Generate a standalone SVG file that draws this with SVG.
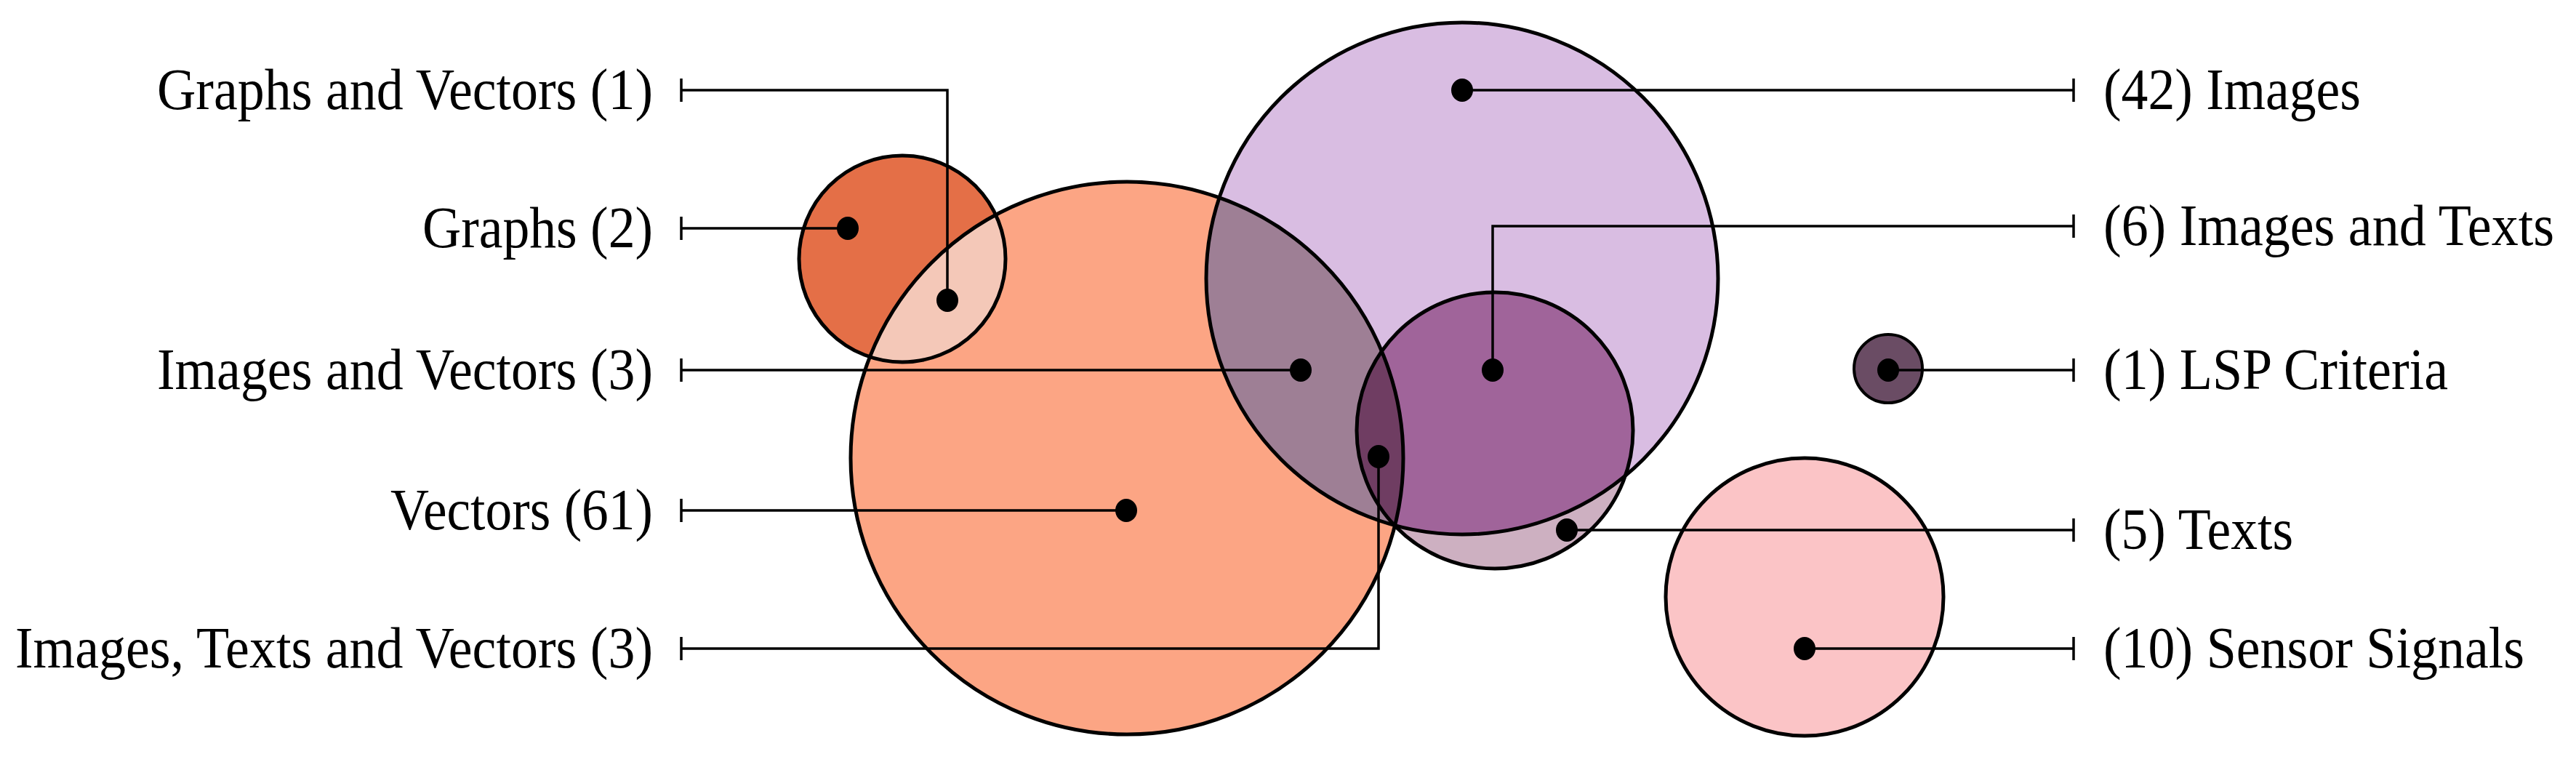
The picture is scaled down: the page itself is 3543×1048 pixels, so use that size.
<svg xmlns="http://www.w3.org/2000/svg" width="3543" height="1048" viewBox="0 0 3543 1048">
<style>
.o{fill:none;stroke:#000;stroke-width:5}
.c{fill:none;stroke:#000;stroke-width:3.5}
.d{fill:#000}
.l{font-family:"Liberation Serif","Times New Roman","DejaVu Serif",serif;font-size:80px;fill:#000}
.r{text-anchor:end}
</style>
<defs>
<clipPath id="cg"><circle cx="1241" cy="356" r="142"/></clipPath>
<clipPath id="ci"><circle cx="2011" cy="383" r="352"/></clipPath>
<clipPath id="ct"><circle cx="2056" cy="592" r="190"/></clipPath>
</defs>
<g id="fills">
<circle cx="1550" cy="630" r="380" fill="#FCA584"/>
<circle cx="1241" cy="356" r="142" fill="#E46F47"/>
<circle cx="1550" cy="630" r="380" fill="#F4C8B8" clip-path="url(#cg)"/>
<circle cx="2011" cy="383" r="352" fill="#D9BDE2"/>
<circle cx="1550" cy="630" r="380" fill="#9E7F95" clip-path="url(#ci)"/>
<circle cx="2056" cy="592" r="190" fill="#CDB0C1"/>
<circle cx="2011" cy="383" r="352" fill="#A0649A" clip-path="url(#ct)"/>
<g clip-path="url(#ct)"><circle cx="1550" cy="630" r="380" fill="#6F3D62"/></g>
<circle cx="2482" cy="821" r="191" fill="#FBC4C6"/>
<circle cx="2597" cy="507" r="47" fill="#6A4C64"/>
</g>
<g id="outlines">
<circle id="n-vectors" class="o" cx="1550" cy="630" r="380"/>
<circle id="n-graphs" class="o" cx="1241" cy="356" r="142"/>
<circle id="n-images" class="o" cx="2011" cy="383" r="352"/>
<circle id="n-texts" class="o" cx="2056" cy="592" r="190"/>
<circle id="n-sensor" class="o" cx="2482" cy="821" r="191"/>
<circle id="n-lsp" class="o" cx="2597" cy="507" r="47" style="stroke-width:4"/>
</g>
<g id="connectors">
<path class="c" d="M937 124H1303V413M937 108V140"/>
<path class="c" d="M937 314H1166M937 298V330"/>
<path class="c" d="M937 509H1789M937 493V525"/>
<path class="c" d="M937 702H1549M937 686V718"/>
<path class="c" d="M937 892H1896V628M937 876V908"/>
<path class="c" d="M2011 124H2852M2852 108V140"/>
<path class="c" d="M2053 509V311H2852M2852 295V327"/>
<path class="c" d="M2597 509H2852M2852 493V525"/>
<path class="c" d="M2155 729H2852M2852 713V745"/>
<path class="c" d="M2482 892H2852M2852 876V908"/>
</g>
<g id="dots">
<ellipse class="d" cx="1303" cy="413" rx="15" ry="16"/>
<ellipse class="d" cx="1166" cy="314" rx="15" ry="16"/>
<ellipse class="d" cx="1789" cy="509" rx="15" ry="16"/>
<ellipse class="d" cx="1549" cy="702" rx="15" ry="16"/>
<ellipse class="d" cx="1896" cy="628" rx="15" ry="16"/>
<ellipse class="d" cx="2011" cy="124" rx="15" ry="16"/>
<ellipse class="d" cx="2053" cy="509" rx="15" ry="16"/>
<ellipse class="d" cx="2155" cy="729" rx="15" ry="16"/>
<ellipse class="d" cx="2482" cy="892" rx="15" ry="16"/>
<ellipse class="d" cx="2597" cy="509" rx="15" ry="16"/>
</g>
<g id="labels">
<text class="l r" x="898" y="150" textLength="682" lengthAdjust="spacingAndGlyphs">Graphs and Vectors (1)</text>
<text class="l r" x="898" y="340" textLength="317" lengthAdjust="spacingAndGlyphs">Graphs (2)</text>
<text class="l r" x="898" y="535" textLength="682" lengthAdjust="spacingAndGlyphs">Images and Vectors (3)</text>
<text class="l r" x="898" y="728" textLength="361" lengthAdjust="spacingAndGlyphs">Vectors (61)</text>
<text class="l r" x="898" y="918" textLength="877" lengthAdjust="spacingAndGlyphs">Images, Texts and Vectors (3)</text>
<text class="l" x="2893" y="150" textLength="354" lengthAdjust="spacingAndGlyphs">(42) Images</text>
<text class="l" x="2893" y="337" textLength="620" lengthAdjust="spacingAndGlyphs">(6) Images and Texts</text>
<text class="l" x="2893" y="535" textLength="474" lengthAdjust="spacingAndGlyphs">(1) LSP Criteria</text>
<text class="l" x="2893" y="755" textLength="261" lengthAdjust="spacingAndGlyphs">(5) Texts</text>
<text class="l" x="2893" y="918" textLength="579" lengthAdjust="spacingAndGlyphs">(10) Sensor Signals</text>
</g>
</svg>
